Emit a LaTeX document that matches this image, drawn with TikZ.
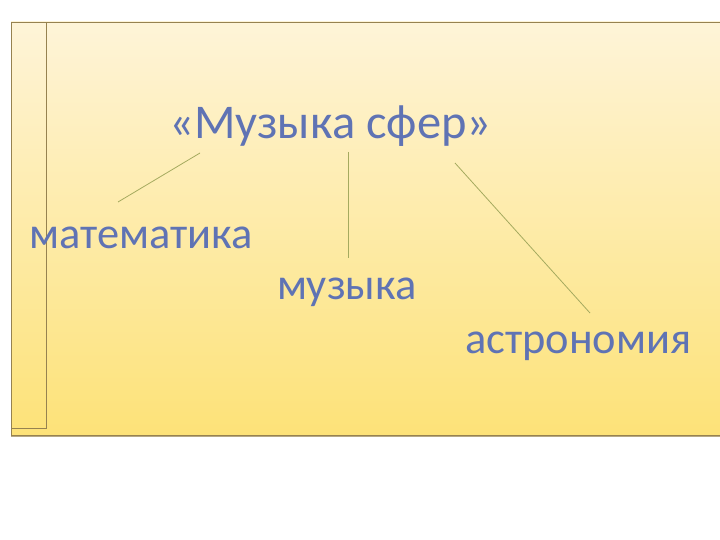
\documentclass[tikz,border=0pt]{standalone}
\usepackage{fontspec}
\setmainfont{Carlito}
\definecolor{txtblue}{RGB}{95,115,180}
\definecolor{frameline}{RGB}{150,130,80}
\definecolor{linkgreen}{RGB}{165,170,95}
\definecolor{topy}{RGB}{254,244,216}
\definecolor{boty}{RGB}{253,226,120}
\tikzset{
  word/.style={anchor=base west, inner sep=0pt, text=txtblue, font=\fontsize{44.4}{52}\selectfont},
  titleword/.style={word, font=\fontsize{48.5}{56}\selectfont},
  link/.style={draw=linkgreen, line width=0.8pt},
  frame/.style={draw=frameline, line width=0.9pt}
}
\begin{document}
\begin{tikzpicture}[x=1pt,y=-1pt]
\useasboundingbox (0,0) rectangle (720,540);
\fill[white] (0,0) rectangle (720,540);
\shade[top color=topy, bottom color=boty] (11,22) rectangle (722,435);
\draw[frame] (722,22) -- (11,22) -- (11,435) -- (722,435);
\draw[frameline!70, line width=1.2pt] (11,436.5) -- (722,436.5);
\draw[frame] (11,22) rectangle (46,428);
\node[titleword] (title) at (169,139) {«Музыка сфер»};
\node[word] (math) at (29,248) {математика};
\node[word] (mus) at (277,299) {музыка};
\node[word] (astr) at (465,353) {астрономия};
\coordinate (t1) at (200,153);
\coordinate (m1) at (118,202);
\coordinate (t2) at (348,152);
\coordinate (u1) at (348,258);
\coordinate (t3) at (455,163);
\coordinate (a1) at (590,313);
\draw[link] (t1) -- (m1);
\draw[link] (t2) -- (u1);
\draw[link] (t3) -- (a1);
\end{tikzpicture}
\end{document}
